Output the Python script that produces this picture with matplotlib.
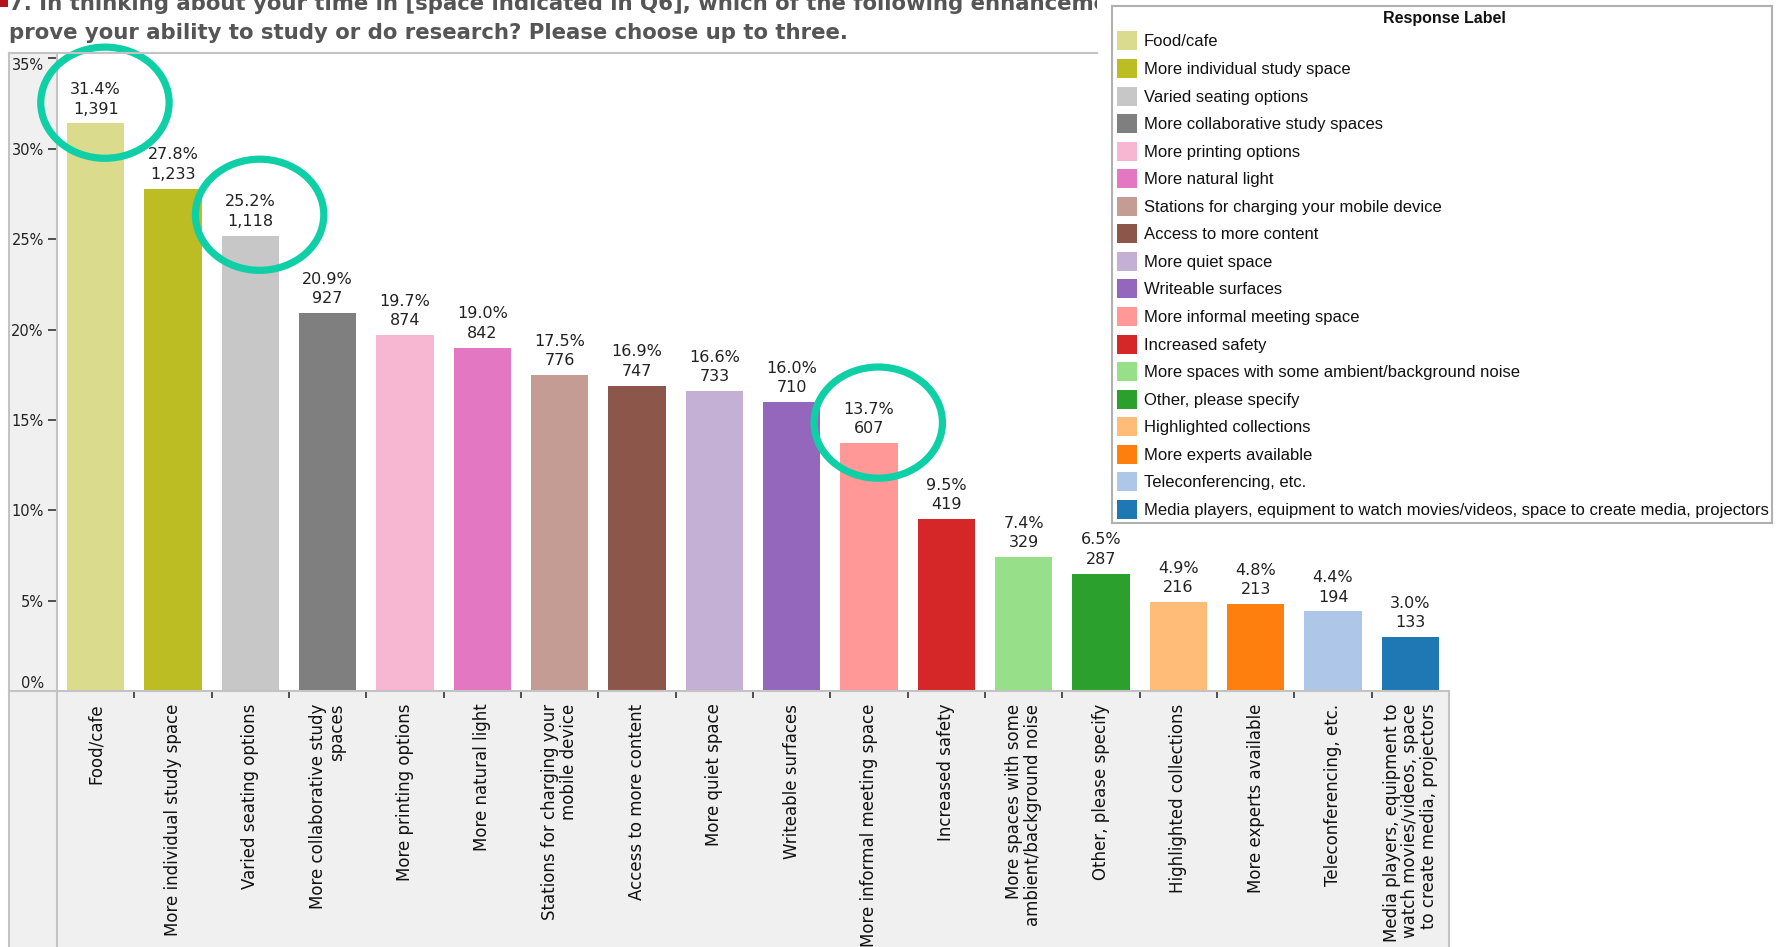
import numpy as np
import matplotlib
matplotlib.use('Agg')
import matplotlib.pyplot as plt
from matplotlib.patches import Rectangle, Ellipse
from matplotlib.lines import Line2D
from matplotlib.transforms import Bbox, TransformedBbox

categories = ['Food/cafe', 'More individual study space', 'Varied seating options',
              'More collaborative study spaces', 'More printing options', 'More natural light',
              'Stations for charging your mobile device', 'Access to more content',
              'More quiet space', 'Writeable surfaces', 'More informal meeting space',
              'Increased safety', 'More spaces with some ambient/background noise',
              'Other, please specify', 'Highlighted collections', 'More experts available',
              'Teleconferencing, etc.',
              'Media players, equipment to watch movies/videos, space to create media, projectors']
tick_labels = ['Food/cafe', 'More individual study space', 'Varied seating options',
               'More collaborative study\nspaces', 'More printing options', 'More natural light',
               'Stations for charging your\nmobile device', 'Access to more content',
               'More quiet space', 'Writeable surfaces', 'More informal meeting space',
               'Increased safety', 'More spaces with some\nambient/background noise',
               'Other, please specify', 'Highlighted collections', 'More experts available',
               'Teleconferencing, etc.',
               'Media players, equipment to\nwatch movies/videos, space\nto create media, projectors']
percent = [31.4, 27.8, 25.2, 20.9, 19.7, 19.0, 17.5, 16.9, 16.6, 16.0, 13.7, 9.5, 7.4, 6.5, 4.9, 4.8, 4.4, 3.0]
counts = [1391, 1233, 1118, 927, 874, 842, 776, 747, 733, 710, 607, 419, 329, 287, 216, 213, 194, 133]
colors = ['#dbdb8d', '#bcbd22', '#c7c7c7', '#7f7f7f', '#f7b6d2', '#e377c2', '#c49c94', '#8c564b',
          '#c5b0d5', '#9467bd', '#ff9896', '#d62728', '#98df8a', '#2ca02c', '#ffbb78', '#ff7f0e',
          '#aec7e8', '#1f77b4']
highlight = [0, 2, 10]

W, H = 1779, 947
plt.rcParams['font.family'] = ['DejaVu Sans']
grey_bg = '#f0f0f0'
border = '#c3c3c3'


def fx(px):
    return px / W


def fy(py):
    return 1 - py / H


fig = plt.figure(figsize=(W / 100, H / 100), dpi=100)

# grey panels behind the y labels and the x labels
fig.patches.append(Rectangle((fx(9), 0), fx(57) - fx(9), fy(53), transform=fig.transFigure,
                             facecolor=grey_bg, edgecolor='none', zorder=-2))
fig.patches.append(Rectangle((fx(9), 0), fx(1449) - fx(9), fy(691), transform=fig.transFigure,
                             facecolor=grey_bg, edgecolor='none', zorder=-2))
fig.patches.append(Rectangle((0, fy(7)), fx(8), 7 / H, transform=fig.transFigure,
                             facecolor='#b3121b', edgecolor='none'))

for xs, ys in [((9, 9), (53, 947)), ((9, 1097), (53, 53)), ((9, 57), (691, 691)),
               ((57, 57), (691, 947)), ((1449, 1449), (691, 947))]:
    fig.lines.append(Line2D([fx(v) for v in xs], [fy(v) for v in ys], transform=fig.transFigure,
                            color=border, lw=1.5, zorder=3))

t1 = fig.text(fx(9), fy(10), '7. In thinking about your time in [space indicated in Q6], which of the '
              'following enhancements would im-', ha='left', va='baseline', fontsize=15.3,
              fontweight='bold', color='#555555')
t1.set_clip_box(TransformedBbox(Bbox([[0, 0], [fx(1097), 1]]), fig.transFigure))
t1.set_clip_on(True)
fig.text(fx(9), fy(39), 'prove your ability to study or do research? Please choose up to three.',
         ha='left', va='baseline', fontsize=15.3, fontweight='bold', color='#555555')

ax = fig.add_axes([fx(57), fy(691), fx(1449) - fx(57), fy(53) - fy(691)])
x = np.arange(len(categories))
ax.bar(x, percent, width=0.74, color=colors, zorder=2)
ax.set_xlim(-0.5, len(categories) - 0.5)
ax.set_ylim(0, 35.3)

for i, (p, c) in enumerate(zip(percent, counts)):
    ax.annotate(f'{p:.1f}%\n{c:,}', (i, p), xytext=(0, 5), textcoords='offset points',
                ha='center', va='bottom', fontsize=11.5, linespacing=1.35, color='#222222')

for i in highlight:
    ax.add_patch(Ellipse((i + 0.12, percent[i] + 1.15), 1.66, 6.15, fill=False,
                         edgecolor='#0fcfa6', lw=5.2, clip_on=False, zorder=5))

for s in ['top', 'right']:
    ax.spines[s].set_visible(False)
for s in ['left', 'bottom']:
    ax.spines[s].set_color(border)
    ax.spines[s].set_linewidth(1.5)

yt = list(range(0, 36, 5))
ax.set_yticks(yt, [f'{v}%' for v in yt])
ax.tick_params(axis='y', length=6.5, width=1.2, color='#333333', pad=3, labelsize=10.5,
               labelcolor='#222222')
ylabs = ax.get_yticklabels()
ylabs[0].set_va('bottom')
ylabs[-1].set_va('top')
ax.yaxis.get_major_ticks()[0].tick1line.set_visible(False)

ax.set_xticks(x, tick_labels, rotation=90, fontsize=12, linespacing=1.05,
              multialignment='right', va='top', ha='center', color='#111111')
ax.tick_params(axis='x', which='major', length=0, pad=9)
ax.set_xticks(x[:-1] + 0.5, minor=True)
ax.tick_params(axis='x', which='minor', length=5, width=1.2, color='#333333')

# legend box
lax = fig.add_axes([fx(1112), fy(523), fx(1772) - fx(1112), fy(6) - fy(523)])
lax.set_xlim(0, 660)
lax.set_ylim(517, 0)
lax.set_xticks([])
lax.set_yticks([])
for s in lax.spines.values():
    s.set_color('#b0b0b0')
    s.set_linewidth(1.5)
lax.text(332, 12, 'Response Label', ha='center', va='center', fontweight='bold',
         fontsize=11.5, family='Liberation Sans', color='#111111')
for i, (lab, col) in enumerate(zip(categories, colors)):
    yc = 35 + i * 27.55
    lax.add_patch(Rectangle((5, yc - 9.5), 20, 19, facecolor=col, edgecolor='none'))
    lax.text(32, yc + 1, lab, ha='left', va='center', fontsize=12, family='Liberation Sans',
             color='#111111')

fig.savefig('out.png', dpi=100)
